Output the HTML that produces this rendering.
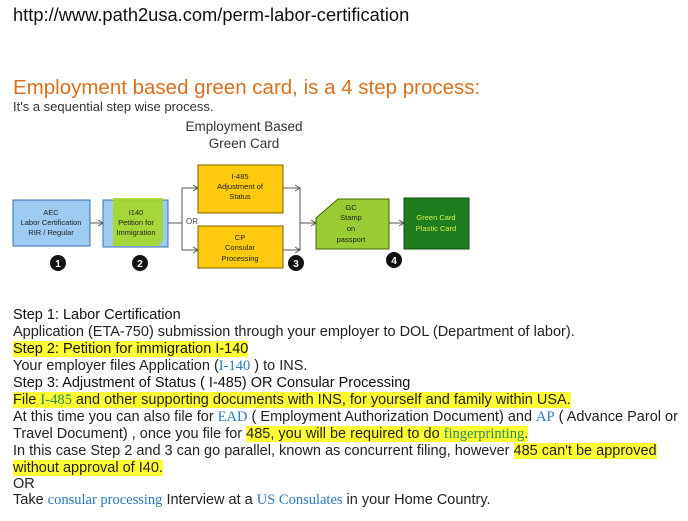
<!DOCTYPE html>
<html><head><meta charset="utf-8"><style>
body{margin:0;width:688px;height:521px;background:#fff;position:relative;overflow:hidden;font-family:"Liberation Sans",Arial,sans-serif;}
.a{position:absolute;white-space:nowrap;}
.t{position:absolute;left:13px;font-size:14.5px;color:#222;white-space:nowrap;line-height:17px;}
.hl{background:#ffff33;}
.s{font-family:"Liberation Serif",serif;color:#2a7ab8;}
.sg{font-family:"Liberation Serif",serif;color:#2a8a5a;}
</style></head><body>
<div class="a" style="left:13px;top:4px;font-size:18.3px;color:#111;">http://www.path2usa.com/perm-labor-certification</div>
<div class="a" style="left:13px;top:76px;font-size:20.5px;color:#d9701f;">Employment based green card, is a 4 step process:</div>
<div class="a" style="left:13px;top:99px;font-size:13px;color:#333;">It's a sequential step wise process.</div>
<svg class="a" style="left:0;top:115px" width="480" height="165" viewBox="0 115 480 165" font-family="Liberation Sans,Arial,sans-serif">
<text x="244" y="131" font-size="13.5" text-anchor="middle" fill="#333">Employment Based</text>
<text x="244" y="148" font-size="13.5" text-anchor="middle" fill="#333">Green Card</text>
<g stroke="#555" stroke-width="1" fill="none">
<path d="M90 223H103M98 220l5 3-5 3"/>
<path d="M168 223H182M182 188V250M182 188H198M182 250H198M193 185l5 3-5 3M193 247l5 3-5 3"/>
<path d="M283 188H300M283 250H300M300 188V250M300 223H316M311 220l5 3-5 3M295 185l5 3-5 3M295 247l5 3-5 3"/>
<path d="M389 223H404M399 220l5 3-5 3"/>
</g>
<rect x="13" y="200" width="77" height="46" fill="#9ecbf2" stroke="#3a6fb0"/>
<rect x="103" y="200" width="65" height="47" fill="#9ecbf2" stroke="#3a6fb0"/>
<path d="M113 198H163V240L158 246H113Z" fill="#a6d81a" opacity="0.85"/>
<rect x="198" y="165" width="85" height="48" fill="#ffc90e" stroke="#806000"/>
<rect x="198" y="226" width="85" height="42" fill="#ffc90e" stroke="#806000"/>
<path d="M338 199H389V249H316V218Z" fill="#99cc33" stroke="#446600"/>
<rect x="404" y="198" width="65" height="51" fill="#1e7d1e" stroke="#0e4e0e"/>
<g font-size="7.5" text-anchor="middle" fill="#222">
<text x="51" y="215">AEC</text><text x="51" y="225">Labor Certification</text><text x="51" y="235">RIR / Regular</text>
<text x="136" y="215">I140</text><text x="136" y="225">Petition for</text><text x="136" y="235">Immigration</text>
<text x="240" y="179">I-485</text><text x="240" y="189">Adjustment of</text><text x="240" y="199">Status</text>
<text x="240" y="240">CP</text><text x="240" y="250">Consular</text><text x="240" y="261">Processing</text>
<text x="351" y="210">GC</text><text x="351" y="220">Stamp</text><text x="351" y="231">on</text><text x="351" y="242">passport</text>
<text x="436" y="220" fill="#d8f048">Green Card</text><text x="436" y="231" fill="#d8f048">Plastic Card</text>
<text x="186" y="224" font-size="8" fill="#444" text-anchor="start">OR</text>
</g>
<g font-size="10" font-weight="bold" text-anchor="middle">
<circle cx="58" cy="263" r="8" fill="#111"/><text x="58" y="267" fill="#fff">1</text>
<circle cx="140" cy="263" r="8" fill="#111"/><text x="140" y="267" fill="#fff">2</text>
<circle cx="296" cy="263" r="8" fill="#111"/><text x="296" y="267" fill="#fff">3</text>
<circle cx="394" cy="260" r="8" fill="#111"/><text x="394" y="264" fill="#fff">4</text>
</g>
</svg>
<div class="t" style="top:307px;color:#111">Step 1: Labor Certification</div>
<div class="t" style="top:324px">Application (ETA-750) submission through your employer to DOL (Department of labor).</div>
<div class="t" style="top:341px;color:#111"><span class="hl">Step 2: Petition for immigration I-140</span></div>
<div class="t" style="top:358px">Your employer files Application (<span class="s">I-140</span> ) to INS.</div>
<div class="t" style="top:375px;color:#111">Step 3: Adjustment of Status ( I-485) OR Consular Processing</div>
<div class="t" style="top:392px"><span class="hl">File <span class="sg">I-485</span> and other supporting documents with INS, for yourself and family within USA.</span></div>
<div class="t" style="top:409px">At this time you can also file for <span class="s">EAD</span> ( Employment Authorization Document) and <span class="s">AP</span> ( Advance Parol or</div>
<div class="t" style="top:426px">Travel Document) , once you file for <span class="hl">485, you will be required to do <span class="sg">fingerprinting</span>.</span></div>
<div class="t" style="top:443px">In this case Step 2 and 3 can go parallel, known as concurrent filing, however <span class="hl">485 can't be approved</span></div>
<div class="t" style="top:460px"><span class="hl">without approval of I40.</span></div>
<div class="t" style="top:476px">OR</div>
<div class="t" style="top:492px">Take <span class="s">consular processing</span> Interview at a <span class="s">US Consulates</span> in your Home Country.</div>
</body></html>
